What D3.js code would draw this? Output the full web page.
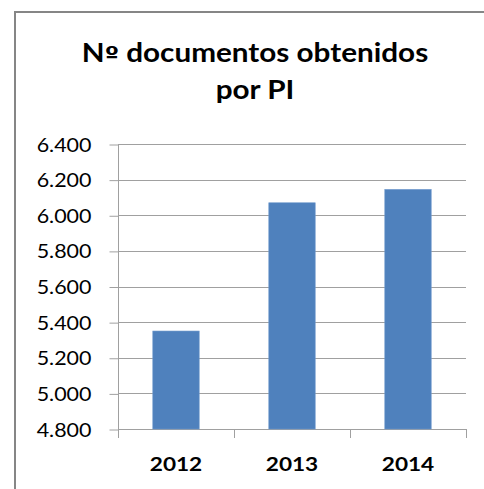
<!DOCTYPE html>
<html>
<head>
<meta charset="utf-8">
<script src="https://cdn.jsdelivr.net/npm/d3@7"></script>
<style>
  body { margin: 0; background: #fff; }
  svg { display: block; }
  text { font-family: Lato, Carlito, "Open Sans", sans-serif; fill: #000; }
</style>
</head>
<body>
<script>
// data
var years = ['2012', '2013', '2014'];
var documentos = [5350, 6070, 6145];
var yTicks = [4800, 5000, 5200, 5400, 5600, 5800, 6000, 6200, 6400];
var titleLines = ['Nº documentos obtenidos', 'por PI'];

// settings
var W = 484, H = 489;
var plotLeft = 118, plotRight = 466, plotTop = 144, plotBottom = 429;
var sx = 1.16; // glyphs in the picture are a bit wide

var es = d3.formatLocale({ decimal: ',', thousands: '.', grouping: [3], currency: ['', ' €'] });
var fmt = es.format(',.0f');

var svg = d3.select('body').append('svg')
    .attr('width', W)
    .attr('height', H);

// outer frame (runs off the right and bottom edge)
svg.append('path')
    .attr('d', 'M15,' + (H + 5) + 'V12H' + (W + 5))
    .attr('fill', 'none')
    .attr('stroke', '#868686')
    .attr('stroke-width', 2);

// scales
var x = d3.scaleBand()
    .domain(years)
    .range([plotLeft, plotRight])
    .paddingInner(0.6)
    .paddingOuter(0.3);

var y = d3.scaleLinear()
    .domain([4800, 6400])
    .range([plotBottom, plotTop]);

// gridlines
svg.append('g')
    .selectAll('line')
    .data(yTicks)
    .enter()
    .append('line')
    .attr('x1', plotLeft)
    .attr('x2', plotRight)
    .attr('y1', function(d) { return Math.round(y(d)) + 0.5; })
    .attr('y2', function(d) { return Math.round(y(d)) + 0.5; })
    .attr('stroke', '#a0a0a0')
    .attr('stroke-width', 1);

// bars
svg.append('g')
    .selectAll('rect')
    .data(documentos)
    .enter()
    .append('rect')
    .attr('x', function(d, i) { return x(years[i]); })
    .attr('y', function(d) { return y(d); })
    .attr('width', x.bandwidth())
    .attr('height', function(d) { return y(4800) - y(d); })
    .attr('fill', '#4f81bd')
    .attr('stroke', '#6d97cc')
    .attr('stroke-width', 0.6);

// y axis
var yAxis = d3.axisLeft(y)
    .tickValues(yTicks)
    .tickSize(9)
    .tickPadding(0)
    .tickFormat(fmt);

var gy = svg.append('g')
    .attr('transform', 'translate(' + (plotLeft + 0.5) + ',0.5)')
    .call(yAxis);

gy.select('.domain').remove();
gy.selectAll('line').attr('stroke', '#a0a0a0');
gy.selectAll('text')
    .attr('x', null)
    .attr('dy', null)
    .attr('transform', 'translate(-27,6.5) scale(' + sx + ',1)')
    .style('font-size', '18.5px')
    .style('font-family', 'Lato, Carlito, sans-serif')
    .attr('fill', '#000');

svg.append('line')
    .attr('x1', plotLeft + 0.5)
    .attr('x2', plotLeft + 0.5)
    .attr('y1', plotTop)
    .attr('y2', plotBottom + 9)
    .attr('stroke', '#a0a0a0');

// x axis ticks at band edges
var edges = years.map(function(d) { return x(d) - x.step() * x.paddingInner() / 2; }).concat([plotRight]);
svg.append('g')
    .selectAll('line')
    .data(edges.slice(1))
    .enter()
    .append('line')
    .attr('x1', function(d) { return Math.round(d) + 0.5; })
    .attr('x2', function(d) { return Math.round(d) + 0.5; })
    .attr('y1', plotBottom)
    .attr('y2', plotBottom + 9)
    .attr('stroke', '#a0a0a0');

// category labels
svg.append('g')
    .selectAll('text')
    .data(years)
    .enter()
    .append('text')
    .attr('transform', function(d) {
        return 'translate(' + (x(d) + x.bandwidth() / 2) + ',471) scale(' + sx + ',1)';
    })
    .attr('text-anchor', 'middle')
    .style('font-size', '19.5px')
    .style('font-weight', 'bold')
    .text(function(d) { return d; });

// title; the º of Lato looks like a degree sign, so take it from DejaVu
var title = svg.append('g')
    .selectAll('text')
    .data(titleLines)
    .enter()
    .append('text')
    .attr('transform', function(d, i) {
        return 'translate(255,' + (62 + i * 36.6) + ') scale(1.155,1)';
    })
    .attr('text-anchor', 'middle')
    .style('font-size', '25.7px')
    .style('font-weight', 'bold');

title.each(function(d) {
    var t = d3.select(this);
    d.split(/(º)/).forEach(function(part) {
        if (!part) return;
        var span = t.append('tspan').text(part);
        if (part === 'º') span.style('font-family', '"DejaVu Sans", sans-serif').style('font-size', '22px');
    });
});
</script>
</body>
</html>
